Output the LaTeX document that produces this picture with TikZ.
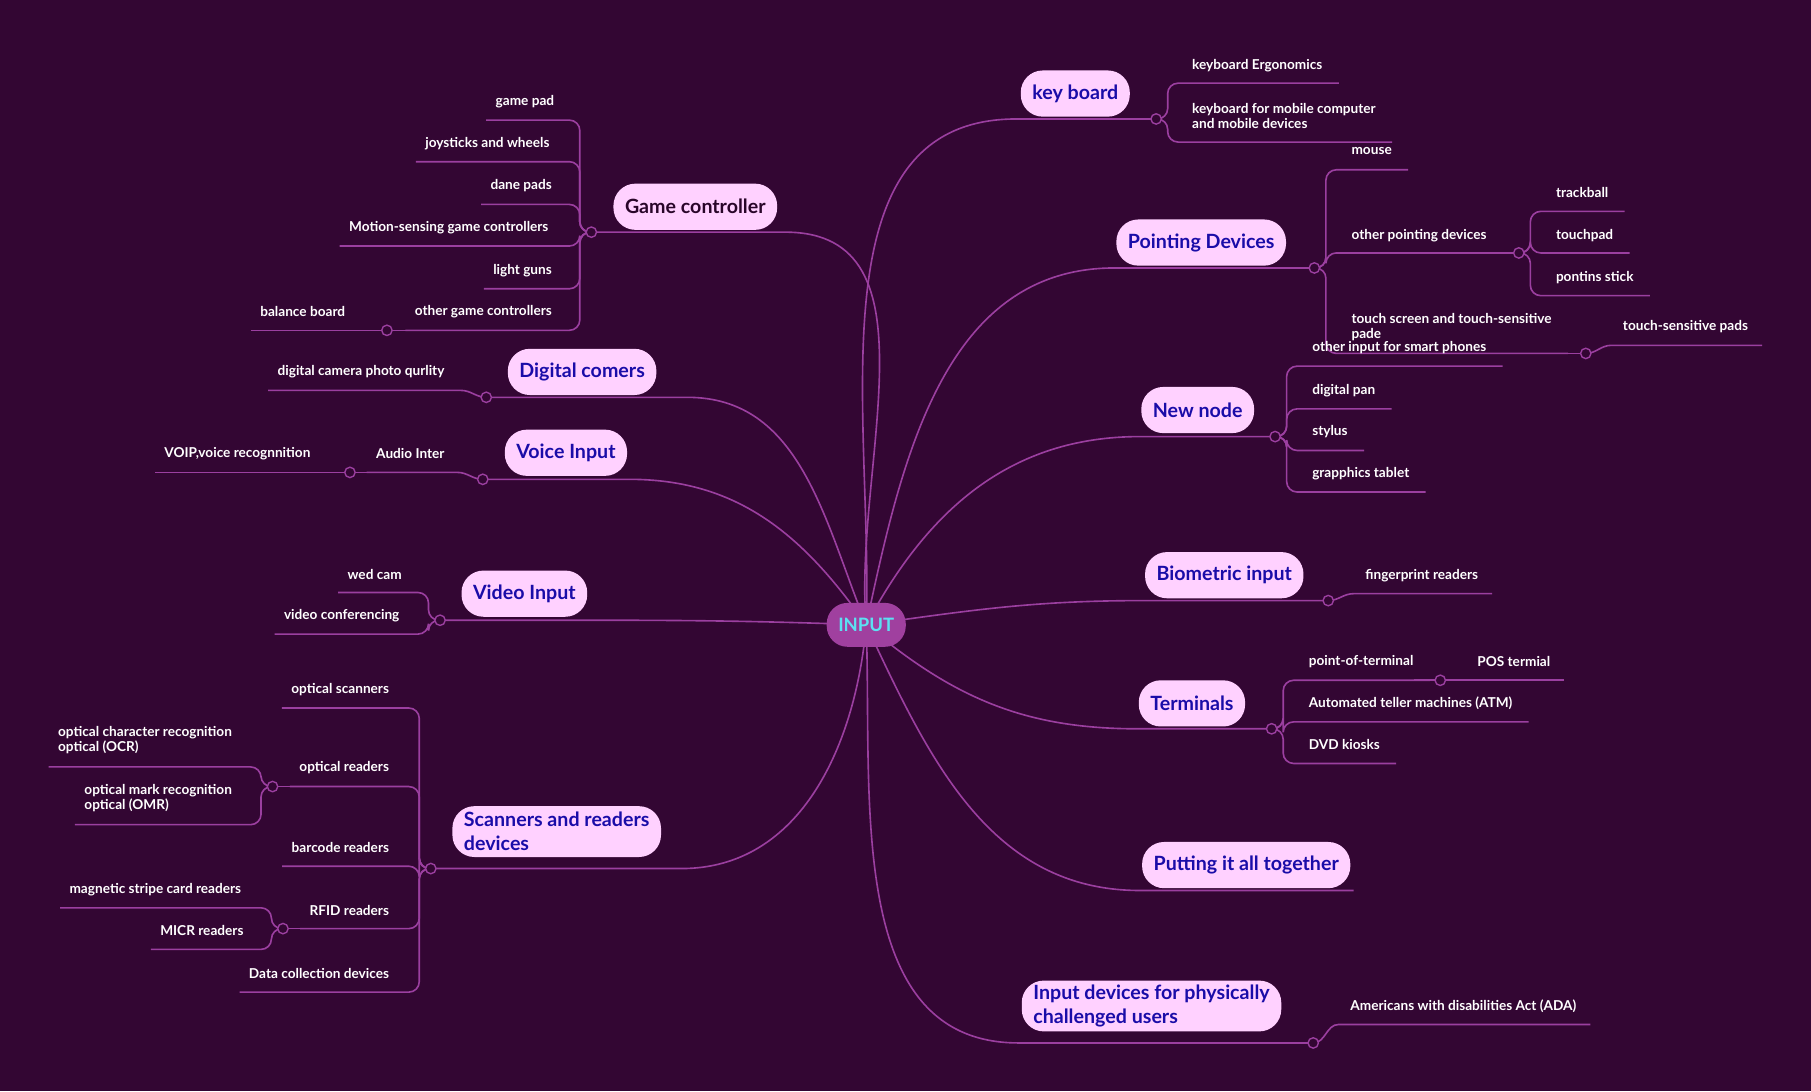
\documentclass[tikz,border=0pt]{standalone}
\usepackage{fontspec}
\setmainfont{Lato}
\begin{document}
\definecolor{bg}{HTML}{330633}
\definecolor{ln}{HTML}{9B3FA0}
\definecolor{pill}{HTML}{FFD1FF}
\definecolor{ptxt}{HTML}{1A0CA8}
\definecolor{inf}{HTML}{A0409F}
\definecolor{intx}{HTML}{5CE1F2}
\begin{tikzpicture}[x=1pt,y=-1pt,
  br/.style={draw=ln,line width=1.4pt},
  lf/.style={text=white,font=\fontsize{11.8}{13}\selectfont\bfseries,inner sep=0pt,align=left},
  main/.style={fill=pill,text=ptxt,rounded corners=19pt,minimum height=40pt,inner xsep=10pt,font=\fontsize{17}{21}\selectfont\bfseries,align=left},
  jn/.style={circle,draw=ln,fill=bg,line width=1.2pt,inner sep=0pt,minimum size=9pt}]
\fill[bg] (0,0) rectangle (1568,945);
\useasboundingbox (0,0) rectangle (1568,945);
\newcommand\rleaf[7]{%
  \node[lf,anchor=west] (#7) at (#5,#6) {#4};
  \draw[br,rounded corners=9pt] (#1+1,#2) -| (#1+10,#3) -- ([xshift=14pt]#7.east |- 0,#3);}
\newcommand\lleaf[7]{%
  \node[lf,anchor=east] (#7) at (#5,#6) {#4};
  \draw[br,rounded corners=9pt] (#1-1,#2) -| (#1-10,#3) -- ([xshift=-8pt]#7.west |- 0,#3);}
\newcommand\rsleaf[7]{%
  \node[lf,anchor=west] (#7) at (#5,#6) {#4};
  \draw[br] (#1,#2) to[out=0,in=180] (#1+22,#3) -- ([xshift=12pt]#7.east |- 0,#3);}
\newcommand\lsleaf[7]{%
  \node[lf,anchor=east] (#7) at (#5,#6) {#4};
  \draw[br] (#1,#2) to[out=180,in=0] (#1-22,#3) -- ([xshift=-8pt]#7.west |- 0,#3);}
\coordinate (IN) at (750,541);
% ---- main branches
\draw[br] (IN) to[out=88,in=180] (880,103) -- (1001,103);
\draw[br] (IN) to[out=78,in=180] (965,232) -- (1138,232);
\draw[br] (IN) to[out=62,in=180] (987,378) -- (1104,378);
\draw[br] (IN) to[out=8,in=180] (990,520) -- (1150,520);
\draw[br] (IN) to[out=-40,in=180] (985,631) -- (1101,631);
\draw[br] (IN) to[out=-65,in=180] (987,771) -- (1172,771);
\draw[br] (IN) to[out=-88,in=180] (882,903) -- (1137,903);
\draw[br] (IN) to[out=95,in=0] (680,201) -- (512,201);
\draw[br] (IN) to[out=112,in=0] (595,344) -- (421,344);
\draw[br] (IN) to[out=125,in=0] (545,415) -- (418,415);
\draw[br] (IN) to[out=178,in=0] (510,537) -- (381,537);
\draw[br] (IN) to[out=-95,in=0] (590,752) -- (373,752);
% ---- main nodes
\node[main] (kb) at (931,81) {key board};
\node[main] (pd) at (1040,210) {Pointing Devices};
\node[main] (nn) at (1037,355) {New node};
\node[main] (bi) at (1060,498) {Biometric input};
\node[main] (te) at (1032,609) {Terminals};
\node[main] (pu) at (1079,749) {Putting it all together};
\node[main,minimum height=44pt] (id) at (997,871) {Input devices for physically\\challenged users};
\node[main,text=bg!80!black] (gc) at (602,179) {Game controller};
\node[main] (dc) at (504,322) {Digital comers};
\node[main] (vi) at (490,392) {Voice Input};
\node[main] (vd) at (454,514) {Video Input};
\node[main,minimum height=44pt] (sc) at (482,720) {Scanners and readers\\devices};
% ---- right leaves
\rleaf{1001}{103}{72}{keyboard Ergonomics}{1032}{57}{k1}
\rleaf{1001}{103}{123}{keyboard for mobile computer\\and mobile devices}{1032}{100}{k2}
\rleaf{1138}{232}{147}{mouse}{1170}{131}{p1}
\rleaf{1138}{232}{219}{other pointing devices}{1170}{204}{p2}
\draw[br] (p2.east |- 0,219) -- (1315,219);
\rleaf{1138}{232}{306}{touch screen and touch-sensitive\\pade}{1170}{283}{p3}
\draw[br] (p3.east |- 0,306) -- (1373,306);
\rleaf{1315}{219}{183}{trackball}{1347}{167}{p21}
\rleaf{1315}{219}{219}{touchpad}{1347}{204}{p22}
\rleaf{1315}{219}{256}{pontins stick}{1347}{240}{p23}
\rsleaf{1373}{306}{299}{touch-sensitive pads}{1405}{283}{p31}
\rleaf{1104}{378}{317}{other input for smart phones}{1136}{301}{n1}
\rleaf{1104}{378}{354}{digital pan}{1136}{338}{n2}
\rleaf{1104}{378}{390}{stylus}{1136}{374}{n3}
\rleaf{1104}{378}{426}{grapphics tablet}{1136}{410}{n4}
\rsleaf{1150}{520}{514}{fingerprint readers}{1182}{498}{b1}
\rleaf{1101}{631}{589}{point-of-terminal}{1133}{573}{t1}
\draw[br] (t1.east |- 0,589) -- (1247,589);
\rleaf{1101}{631}{625}{Automated teller machines (ATM)}{1133}{609}{t2}
\rleaf{1101}{631}{661}{DVD kiosks}{1133}{645}{t3}
\node[lf,anchor=west] (t11) at (1279,573) {POS termial};
\draw[br] (1247,589) -- ([xshift=12pt]t11.east |- 0,589);
\rsleaf{1137}{903}{887}{Americans with disabilities Act (ADA)}{1169}{871}{i1}
% ---- left leaves
\lleaf{512}{201}{104}{game pad}{480}{88}{g1}
\lleaf{512}{201}{140}{joysticks and wheels}{476}{124}{g2}
\lleaf{512}{201}{177}{dane pads}{478}{161}{g3}
\lleaf{512}{201}{213}{Motion-sensing game controllers}{475}{197}{g4}
\lleaf{512}{201}{250}{light guns}{478}{234}{g5}
\lleaf{512}{201}{286}{other game controllers}{478}{270}{g6}
\draw[br] (g6.west |- 0,286) -- (335,286);
\node[lf,anchor=east] (g61) at (299,270) {balance board};
\draw[br] (335,286) -- ([xshift=-8pt]g61.west |- 0,286);
\lsleaf{421}{344}{338}{digital camera photo qurlity}{385}{322}{d1}
\lsleaf{418}{415}{409}{Audio Inter}{385}{393}{v1}
\draw[br] (v1.west |- 0,409) -- (303,409);
\node[lf,anchor=east] (v11) at (269,393) {VOIP,voice recognnition};
\draw[br] (303,409) -- ([xshift=-8pt]v11.west |- 0,409);
\lleaf{381}{537}{513}{wed cam}{348}{497}{w1}
\lleaf{381}{537}{549}{video conferencing}{346}{533}{w2}
\lleaf{373}{752}{613}{optical scanners}{337}{597}{s1}
\lleaf{373}{752}{681}{optical readers}{337}{665}{s2}
\draw[br] (s2.west |- 0,681) -- (236,681);
\lleaf{373}{752}{750}{barcode readers}{337}{734}{s3}
\lleaf{373}{752}{804}{RFID readers}{337}{788}{s4}
\draw[br] (s4.west |- 0,804) -- (245,804);
\lleaf{373}{752}{859}{Data collection devices}{337}{843}{s5}
\lleaf{236}{681}{664}{optical character recognition\\optical (OCR)}{201}{641}{s21}
\lleaf{236}{681}{714}{optical mark recognition\\optical (OMR)}{201}{691}{s22}
\lleaf{245}{804}{786}{magnetic stripe card readers}{209}{770}{s41}
\lleaf{245}{804}{822}{MICR readers}{211}{806}{s42}
% ---- junction circles
\foreach \p in {(1001,103),(1138,232),(1315,219),(1373,306),(1104,378),(1150,520),(1101,631),(1247,589),(1137,903),(512,201),(335,286),(421,344),(418,415),(303,409),(381,537),(373,752),(236,681),(245,804)}
  \node[jn] at \p {};
% ---- centre
\node[fill=inf,text=intx,rounded corners=18pt,minimum height=38pt,inner xsep=10pt,font=\fontsize{16}{19}\selectfont\bfseries] (input) at (IN) {INPUT};
\end{tikzpicture}
\end{document}
